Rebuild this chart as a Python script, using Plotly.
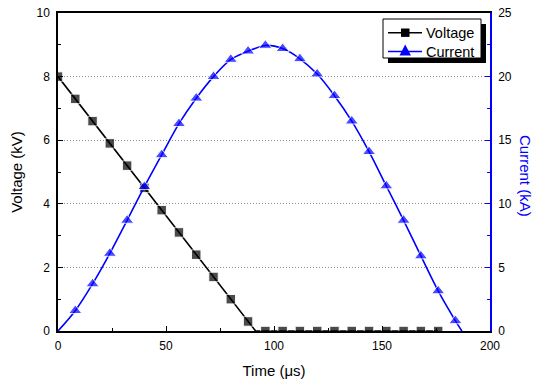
import plotly.graph_objects as go

# ---- data ----
volt_t = [0, 8, 16, 24, 32, 40, 48, 56, 64, 72, 80, 88, 91.5,
          96, 104, 112, 120, 128, 136, 144, 152, 160, 168, 176]
volt_kv = [8.0, 7.3, 6.6, 5.9, 5.2, 4.5, 3.8, 3.1, 2.4, 1.7, 1.0, 0.3, 0.0,
           0, 0, 0, 0, 0, 0, 0, 0, 0, 0, 0]
volt_marked = [True] * 12 + [False] + [True] * 11

curr_t = [0, 8, 16, 24, 32, 40, 48, 56, 64, 72, 80, 88, 96, 104, 112, 120,
          128, 136, 144, 152, 160, 168, 176, 184, 187]
curr_ka = [0, 1.6, 3.7, 6.1, 8.7, 11.35, 13.85, 16.3, 18.3, 20.0, 21.35, 22.0,
           22.45, 22.2, 21.4, 20.2, 18.5, 16.5, 14.1, 11.4, 8.7, 5.9, 3.15, 0.8, 0]
curr_marked = [False] + [True] * 23 + [False]

series_names = ["Voltage", "Current"]
x_ticks = [0, 50, 100, 150, 200]
v_ticks = [0, 2, 4, 6, 8, 10]
c_ticks = [0, 5, 10, 15, 20, 25]

BLUE = "#0000FF"
FONT = "Liberation Sans, Arial, sans-serif"

L, R, T, B = 58, 44, 13, 49
W, H = 534, 380
pw, ph = W - L - R, H - T - B


def px(X):
    return (X - L) / pw


def py(Y):
    return 1 - (Y - T) / ph


fig = go.Figure()
fig.add_trace(go.Scatter(
    x=volt_t, y=volt_kv, name=series_names[0], mode="lines+markers",
    line=dict(color="black", width=1.6),
    marker=dict(symbol="square", color="black",
                size=[9.5 if m else 0 for m in volt_marked]),
))
fig.add_trace(go.Scatter(
    x=curr_t, y=curr_ka, name=series_names[1], mode="lines+markers", yaxis="y2",
    line=dict(color=BLUE, width=1.6, shape="spline", smoothing=0.8),
    marker=dict(symbol="triangle-up", color=BLUE,
                size=[11.5 if m else 0 for m in curr_marked]),
))

# ---- hand-drawn legend (box with drop shadow, like the original) ----
bx0, bx1, by0, by1 = 383, 481, 19, 58
off = 5
shapes = [
    dict(type="rect", xref="paper", yref="paper",
         x0=px(bx0 + off), x1=px(bx1 + off), y0=py(by1 + off), y1=py(by0 + off),
         fillcolor="black", line=dict(width=0), layer="above"),
    dict(type="rect", xref="paper", yref="paper",
         x0=px(bx0), x1=px(bx1), y0=py(by1), y1=py(by0),
         fillcolor="white", line=dict(color="black", width=1), layer="above"),
]
rows = [32.7, 51.5]
colors = ["black", BLUE]
for yrow, col in zip(rows, colors):
    shapes.append(dict(type="line", xref="paper", yref="paper",
                       x0=px(388), x1=px(422), y0=py(yrow), y1=py(yrow),
                       line=dict(color=col, width=1.6), layer="above"))
# square symbol
shapes.append(dict(type="rect", xref="paper", yref="paper",
                   x0=px(401), x1=px(409.5), y0=py(rows[0] + 4.2), y1=py(rows[0] - 4.2),
                   fillcolor="black", line=dict(width=0), layer="above"))
# triangle symbol
tri = "M {:.4f},{:.4f} L {:.4f},{:.4f} L {:.4f},{:.4f} Z".format(
    px(399.5), py(55.5), px(411), py(55.5), px(405.2), py(44.5))
shapes.append(dict(type="path", xref="paper", yref="paper", path=tri,
                   fillcolor=BLUE, line=dict(width=0), layer="above"))

annotations = []
for name, yrow in zip(series_names, rows):
    annotations.append(dict(text=name, xref="paper", yref="paper", x=px(424), y=py(yrow),
                            xanchor="left", yanchor="middle", showarrow=False,
                            font=dict(size=14.5, family=FONT, color="black")))
annotations.append(dict(text="Current (kA)", textangle=90, xref="paper", yref="paper",
                        x=px(526), y=py(176), xanchor="center", yanchor="middle",
                        showarrow=False, font=dict(size=15, color=BLUE, family=FONT)))

fig.update_layout(
    width=W, height=H,
    margin=dict(l=L, r=R, t=T, b=B, autoexpand=False),
    paper_bgcolor="white", plot_bgcolor="white",
    font=dict(family=FONT, size=12, color="black"),
    showlegend=False,
    shapes=shapes,
    annotations=annotations,
    xaxis=dict(range=[0, 200], tickvals=x_ticks, ticks="inside", ticklen=5,
               tickwidth=1, tickcolor="black", showline=True, linecolor="black",
               linewidth=1.5, mirror=True, showgrid=False, zeroline=False,
               automargin=False, ticklabelstandoff=3,
               minor=dict(dtick=25, ticks="inside", ticklen=3, tickcolor="black"),
               title=dict(text="Time (\u03bcs)", font=dict(size=15), standoff=13),
               tickfont=dict(size=12)),
    yaxis=dict(range=[0, 10], tickvals=v_ticks, ticks="inside", ticklen=5,
               tickcolor="black", showline=True, linecolor="black", linewidth=1.5,
               showgrid=True, gridcolor="#8c8c8c", griddash="1px,2px", gridwidth=1,
               zeroline=False, automargin=False, ticklabelstandoff=4,
               minor=dict(dtick=1, ticks="inside", ticklen=3, tickcolor="black",
                          showgrid=False),
               title=dict(text="Voltage (kV)", font=dict(size=15), standoff=10),
               tickfont=dict(size=12)),
    yaxis2=dict(range=[0, 25], tickvals=c_ticks, overlaying="y", side="right",
                ticks="inside", ticklen=5, tickcolor=BLUE, showline=True,
                linecolor=BLUE, linewidth=1.5, showgrid=False, zeroline=False,
                automargin=False, ticklabelstandoff=4,
                minor=dict(dtick=2.5, ticks="inside", ticklen=3, tickcolor=BLUE),
                tickfont=dict(size=12, color="black")),
)

fig.write_html("out.html", config={"displayModeBar": False},
               post_script="document.body.style.margin='0';document.body.style.padding='0';")
